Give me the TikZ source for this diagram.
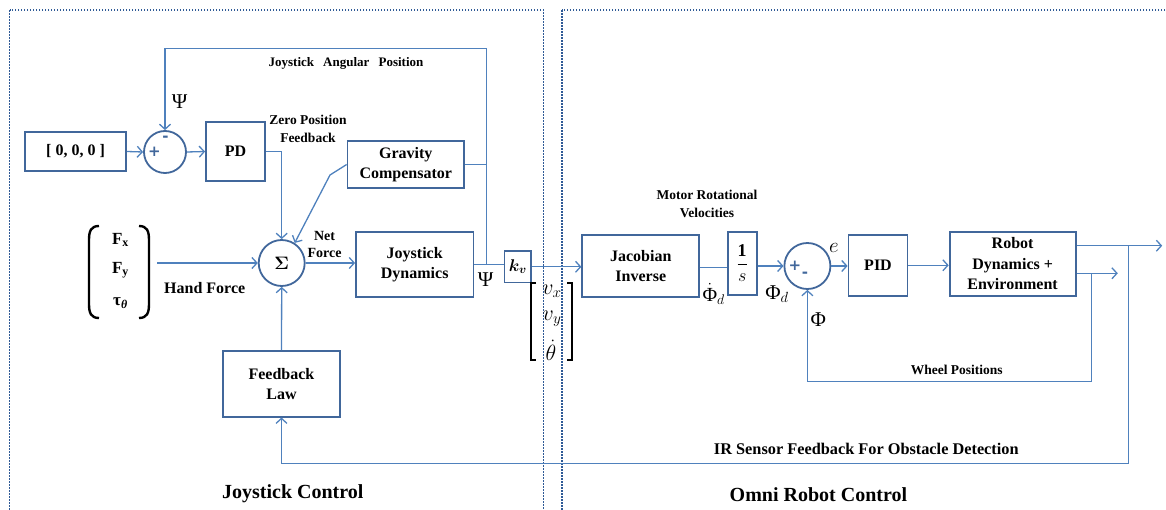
\documentclass[tikz,border=0pt]{standalone}
\usepackage{fix-cm}
\usepackage{amsmath,amssymb}
\usepackage{fontspec}
\setmainfont{Liberation Serif}
\newfontfamily\sgnfont{DejaVu Sans}
\usetikzlibrary{arrows.meta,calc}
\definecolor{boxc}{HTML}{41679B}
\definecolor{arrc}{HTML}{4F81BD}
\definecolor{framec}{HTML}{2F5A96}
\newcommand\tsz[2]{\fontsize{#1}{#2}\selectfont\bfseries}
\begin{document}
\begin{tikzpicture}[x=1pt,y=-1pt,
  blk/.style={draw=boxc, line width=1.8pt, align=center, inner sep=0pt, font=\tsz{16}{20.5}},
  sumc/.style={draw=boxc, line width=1.8pt, circle, inner sep=0pt, minimum size=44pt},
  conn/.style={draw=arrc, line width=1.3pt},
  arr/.style={conn, -{Straight Barb[length=5pt,width=11pt]}},
  lbl/.style={align=center, inner sep=0pt, font=\tsz{13.5}{18}},
  sgn/.style={inner sep=0pt, text=boxc, font=\sgnfont\bfseries\fontsize{15}{15}\selectfont},
  frame/.style={draw=framec, line width=1.6pt, dash pattern=on 1.6pt off 1.4pt},
  paren/.style={draw=black, line width=2.4pt},
  brk/.style={draw=black, line width=1.3pt},
  grk/.style={inner sep=0pt, font=\fontsize{21}{24}\selectfont},
  mth/.style={inner sep=0pt, font=\fontsize{21}{24}\selectfont}]
\useasboundingbox (0,0) rectangle (1166,510);

% frames
\draw[frame] (9.6,10) rectangle (543.4,525);
\draw[frame] (561.8,10) rectangle (1175,525);

% blocks
\node[blk, minimum width=101pt, minimum height=39pt] (zero) at (75.5,151.5) {[ 0, 0, 0 ]};
\node[sumc, minimum size=42pt] (s1) at (165,152) {};
\node[sgn] at (154.5,152) {+};
\node[sgn] at (165.5,139) {-};
\node[blk, minimum width=59pt, minimum height=59pt] (pd) at (235.5,151.5) {PD};
\node[blk, minimum width=116.5pt, minimum height=47.6pt] (grav) at (405.8,164.5) {Gravity\\Compensator};
\node[sumc, minimum size=46pt, font=\fontsize{18}{18}\selectfont] (sig) at (281.7,263) {$\boldsymbol{\Sigma}$};
\node[blk, minimum width=117.4pt, minimum height=65.6pt] (jd) at (414.7,264.5) {Joystick\\Dynamics};
\node[blk, minimum width=26.8pt, minimum height=31.7pt, line width=1.5pt, font=\fontsize{17}{17}\selectfont] (kv) at (517.8,266.8) {$\boldsymbol{k_v}$};
\node[blk, minimum width=116.8pt, minimum height=65.7pt] (fl) at (281.5,383.8) {Feedback\\Law};
\node[blk, minimum width=117pt, minimum height=62.3pt] (jac) at (640.8,266.2) {Jacobian\\Inverse};
\node[blk, minimum width=29pt, minimum height=63.3pt, font=\fontsize{18}{20}\selectfont] (inv) at (742.2,263.3) {$\dfrac{\mathbf{1}}{s}$};
\node[sumc, minimum size=46pt] (s2) at (807.4,266) {};
\node[sgn] at (795,266) {+};
\node[sgn] at (805,275) {-};
\node[blk, minimum width=59pt, minimum height=60.7pt] (pid) at (878,265.3) {PID};
\node[blk, minimum width=126pt, minimum height=64pt] (rob) at (1012.6,263.7) {Robot\\Dynamics +\\Environment};

% hand force vector
\node[inner sep=0pt, font=\tsz{17}{17}] (fx) at (120.5,240) {F\textsubscript{x}};
\node[inner sep=0pt, font=\tsz{17}{17}] (fy) at (120.5,270) {F\textsubscript{y}};
\node[inner sep=0pt, font=\tsz{17}{17}] (tt) at (120.5,303) {τ\textsubscript{\textit{θ}}};
\draw[paren] (99,226) .. controls (91,226) and (89,231) .. (89,240) -- (89,304) .. controls (89,313) and (91,318) .. (99,318);
\draw[paren] (139,226) .. controls (147,226) and (149,231) .. (149,240) -- (149,304) .. controls (149,313) and (147,318) .. (139,318);
\coordinate (hf) at (157,263);

% velocity vector
\node[mth, font=\fontsize{22}{25}\selectfont] (vx) at (552,291) {$v_x$};
\node[mth, font=\fontsize{22}{25}\selectfont] (vy) at (552,319) {$v_y$};
\node[mth, font=\fontsize{22}{25}\selectfont] (vt) at (551,350) {$\dot\theta$};
\draw[brk] (536,283) -- (531,283) -- (531,360) -- (536,360);
\draw[brk] (567,283) -- (572,283) -- (572,360) -- (567,360);

% coordinates
\coordinate (tap) at (486.8,264.5);
\coordinate (topy) at (0,48.3);
\coordinate (gb) at (330,175);
\coordinate (o1) at (1162.2,245.7);
\coordinate (o2) at (1117.8,273.3);
\coordinate (wp) at (1091.5,273.3);
\coordinate (wb) at (1091.5,381.7);
\coordinate (ir) at (1128.8,245.7);
\coordinate (ib) at (1128.8,463.3);

% connectors
\draw[arr] (zero.east) -- (s1.west);
\draw[arr] (s1.east) -- (pd.west);
\draw[arr] (pd.east) -| (sig.north);
\draw[arr] (grav.west) -- (gb) -- (sig.57);
\draw[arr] (hf) -- (sig.west);
\draw[arr] (sig.east) -- (sig.east -| jd.west);
\draw[conn] (jd.east) -- (jd.east -| kv.west);
\draw[arr] (tap) -- (tap |- topy) -| (s1.north);
\draw[conn] (grav.east) -- (grav.east -| tap);
\draw[arr] (fl.north) -- (sig.south);
\draw[arr] (kv.east) -- (kv.east -| jac.west);
\draw[conn] (jac.east |- 0,267.3) -- (inv.west |- 0,267.3);
\draw[arr] (inv.east |- s2.west) -- (s2.west);
\draw[arr] (s2.east) -- (s2.east -| pid.west);
\draw[arr] (pid.east) -- (pid.east -| rob.west);
\draw[arr] (rob.east |- o1) -- (o1);
\draw[arr] (rob.east |- o2) -- (o2);
\draw[arr] (wp) -- (wb) -| (s2.south);
\draw[arr] (ir) -- (ib) -| (fl.south);

% labels
\node[lbl, font=\tsz{13}{16}] at (346,63) {Joystick\hspace{0.45em} Angular\hspace{0.45em} Position};
\node[grk] at (179.5,101.5) {Ψ};
\node[grk] at (485.6,279.5) {Ψ};
\node[lbl] at (308,129) {Zero Position\\Feedback};
\node[lbl, font=\tsz{16}{18}] at (204.7,288) {Hand Force};
\node[lbl, font=\tsz{14}{16.7}] at (324.5,244.5) {Net\\Force};
\node[lbl] at (707,204) {Motor Rotational\\Velocities};
\node[grk, anchor=east, font=\fontsize{20}{24}\selectfont] at (725,294) {$\dot{\text{Φ}}_{d}$};
\node[grk] at (777,294) {Φ$_{d}$};
\node[mth] at (834,248) {$e$};
\node[grk] at (818.4,320) {Φ};
\node[lbl] at (956.7,370) {Wheel Positions};
\node[lbl, font=\tsz{16.3}{18}] at (866.3,449.3) {IR Sensor Feedback For Obstacle Detection};
\node[lbl, font=\tsz{20}{24}] at (292.8,493.3) {Joystick Control};
\node[lbl, font=\tsz{20}{24}] at (818.4,495) {Omni Robot Control};
\end{tikzpicture}
\end{document}
